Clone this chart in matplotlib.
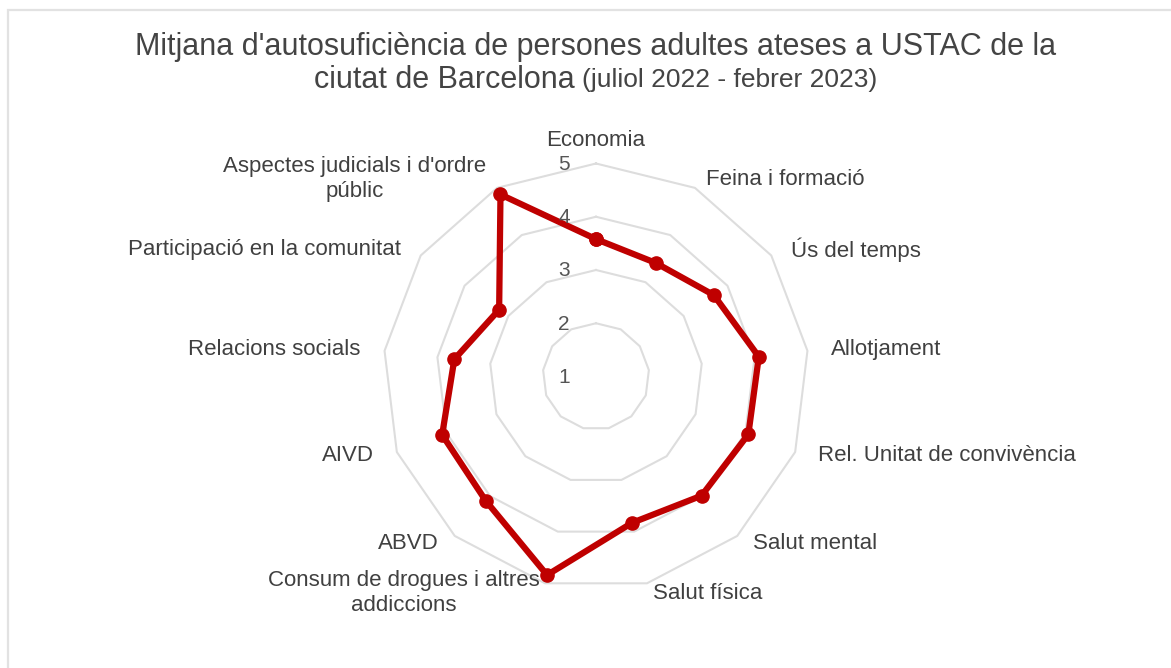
import numpy as np
import matplotlib
matplotlib.use("Agg")
import matplotlib.pyplot as plt
from matplotlib.patches import Rectangle

# Dades
categories = [
    "Economia", "Feina i formació", "Ús del temps", "Allotjament",
    "Rel. Unitat de convivència", "Salut mental", "Salut física",
    "Consum de drogues i altres\naddiccions", "ABVD", "AIVD",
    "Relacions socials", "Participació en la comunitat",
    "Aspectes judicials i d'ordre\npúblic",
]
mitjana = [3.58, 3.41, 3.69, 4.08, 4.06, 3.99, 3.83, 4.84, 4.12, 4.09, 3.68, 3.21, 4.86]
rings = [2, 3, 4, 5]
tick_labels = ["1", "2", "3", "4", "5"]

title_main = "Mitjana d'autosuficiència de persones adultes ateses a USTAC de la"
title_2a = "ciutat de Barcelona"
title_2b = "(juliol 2022 - febrer 2023)"

plt.rcParams['font.family'] = ['Liberation Sans', 'DejaVu Sans']

W, H = 1171, 668
fig = plt.figure(figsize=(W / 100, H / 100), dpi=100)
fig.patch.set_facecolor("white")

# marc gris (cantonada superior esquerra)
fig.patches.append(Rectangle((8 / W, -0.1), 1.2, (H - 10) / H + 0.1, transform=fig.transFigure,
                             fill=False, edgecolor="#e2e2e2", lw=1.6))

# eix polar centrat a (596, 376.5) px
cx, cy, R = 596, 376.5, 213
ax = fig.add_axes([(cx - R) / W, (H - cy - R) / H, 2 * R / W, 2 * R / H], projection="polar")
ax.set_theta_zero_location("N")
ax.set_theta_direction(-1)
ax.set_ylim(1, 5)
ax.grid(False)
ax.spines["polar"].set_visible(False)
ax.set_xticks([])
ax.set_yticks([])
ax.patch.set_alpha(0)

n = len(categories)
angles = np.linspace(0, 2 * np.pi, n, endpoint=False)
ang_c = np.append(angles, angles[0])

for v in rings:
    ax.plot(ang_c, [v] * (n + 1), color="#dddddd", lw=1.5, zorder=1, clip_on=False)

vals = np.append(mitjana, mitjana[0])
ax.plot(ang_c, vals, color="#bf0000", lw=4.5, marker="o", ms=9.5, zorder=3, clip_on=False)

# etiquetes de l'escala
for i, t in enumerate(tick_labels):
    ax.annotate(t, xy=(0, i + 1), xytext=(-32, -1), textcoords="offset pixels",
                ha="center", va="center", fontsize=15, color="#555555", zorder=4)

# etiquetes de categories
for a, lab in zip(angles, categories):
    s, c = np.sin(a), np.cos(a)
    if abs(s) < 0.1:
        ha = "center"
    elif s > 0:
        ha = "left"
    else:
        ha = "right"
    dx, dy = 24 * s, 10 * c
    if abs(s) < 0.1 and c > 0:
        dy = 23
    ax.annotate(lab, xy=(a, 5), xytext=(dx, dy), textcoords="offset pixels",
                ha=ha, va="center", multialignment="center",
                fontsize=16, color="#404040", annotation_clip=False)

# títol
fig.text(cx / W, 1 - 47 / H, title_main, ha="center", va="center", fontsize=22, color="#444444")
t1 = fig.text(0, 1 - 80 / H, title_2a, ha="left", va="center", fontsize=22, color="#444444")
t2 = fig.text(0, 1 - 80 / H, title_2b, ha="left", va="center", fontsize=19, color="#444444")
fig.canvas.draw()
r = fig.canvas.get_renderer()
w1 = t1.get_window_extent(r).width
w2 = t2.get_window_extent(r).width
gap = 7
x0 = cx - (w1 + gap + w2) / 2
t1.set_x(x0 / W)
t2.set_x((x0 + w1 + gap) / W)

fig.savefig("out.png", dpi=100, facecolor="white")
